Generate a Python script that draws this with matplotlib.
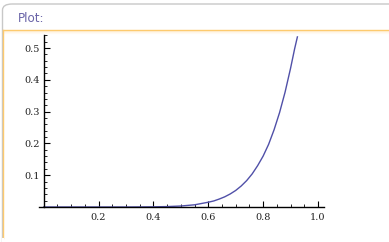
import matplotlib
matplotlib.use("Agg")
import matplotlib.pyplot as plt
from matplotlib.patches import FancyBboxPatch
from matplotlib.lines import Line2D
from matplotlib.ticker import MultipleLocator, FormatStrFormatter

# curve values
xs = [0.0, 0.1, 0.2, 0.3, 0.4, 0.45, 0.5, 0.55, 0.6, 0.62, 0.64, 0.66, 0.68,
      0.7, 0.72, 0.74, 0.76, 0.78, 0.8, 0.82, 0.84, 0.86, 0.88, 0.9, 0.915, 0.925]
ys = [0.0, 0.0, 0.0, 0.0, 0.0005, 0.0013, 0.0031, 0.0069, 0.015, 0.019, 0.025,
      0.032, 0.041, 0.052, 0.066, 0.083, 0.104, 0.130, 0.160, 0.197, 0.243,
      0.297, 0.361, 0.436, 0.498, 0.535]

x_ticks = [0.2, 0.4, 0.6, 0.8, 1.0]
y_ticks = [0.1, 0.2, 0.3, 0.4, 0.5]
title = "Plot:"

W, H = 389, 242
fig = plt.figure(figsize=(W / 100, H / 100), dpi=100)

def fx(px):
    return px / W

def fy(py):
    return 1 - py / H

# pod frame, runs off the right and bottom edges
box = FancyBboxPatch((fx(2.5), fy(400)), fx(420), 396 / H,
                     boxstyle="round,pad=0,rounding_size=0.025",
                     transform=fig.transFigure, fc="none", ec="#c8c8c8", lw=1.0,
                     zorder=-1)
fig.patches.append(box)
# soft glow under the orange line
for i, a in enumerate([0.35, 0.2, 0.1]):
    fig.add_artist(Line2D([fx(3), 1], [fy(30.5 + i), fy(30.5 + i)],
                          color="#ffe3b0", alpha=a, lw=1.0))
fig.add_artist(Line2D([fx(2.5), 1], [fy(29.5), fy(29.5)], color="#fdca6e", lw=1.0))
fig.add_artist(Line2D([fx(2.5), fx(2.5)], [fy(29.5), fy(238)], color="#fdca6e", lw=1.0))
# white strip to hide gray frame below the orange corner
fig.add_artist(Line2D([fx(2.5), fx(2.5)], [fy(238.5), fy(242)], color="white", lw=1.5))
fig.text(fx(18), fy(18.5), title, color="#6a64a8", fontsize=8.6,
         family="DejaVu Sans", va="center", ha="left")

# plot area
left, right, top, bottom = 39.3, 324, 35, 207
ax = fig.add_axes([fx(left), fy(bottom), (right - left) / W, (bottom - top) / H])
ax.patch.set_alpha(0)
ax.plot(xs, ys, color="#5050a8", lw=1.0)

ax.set_xlim(-0.016, 1.022)
ax.set_ylim(0, 0.541)
for s in ["top", "right"]:
    ax.spines[s].set_visible(False)
ax.spines["left"].set_position(("data", 0))
ax.spines["bottom"].set_position(("data", 0))
for s in ["left", "bottom"]:
    ax.spines[s].set_linewidth(1.0)
    ax.spines[s].set_color("black")

ax.set_xticks(x_ticks)
ax.set_yticks(y_ticks)
ax.xaxis.set_minor_locator(MultipleLocator(0.05))
ax.yaxis.set_minor_locator(MultipleLocator(0.02))
ax.xaxis.set_major_formatter(FormatStrFormatter("%.1f"))
ax.yaxis.set_major_formatter(FormatStrFormatter("%.1f"))
ax.tick_params(which="major", direction="in", length=4, width=0.8, color="black",
               labelsize=7)
ax.tick_params(which="minor", direction="in", length=2.2, width=0.6, color="black")
ax.tick_params(axis="x", which="major", pad=4)
ax.tick_params(axis="y", which="major", pad=3)
for lab in ax.get_xticklabels() + ax.get_yticklabels():
    lab.set_family("DejaVu Serif")
    lab.set_color("#222222")

fig.savefig("out.png", dpi=100)
